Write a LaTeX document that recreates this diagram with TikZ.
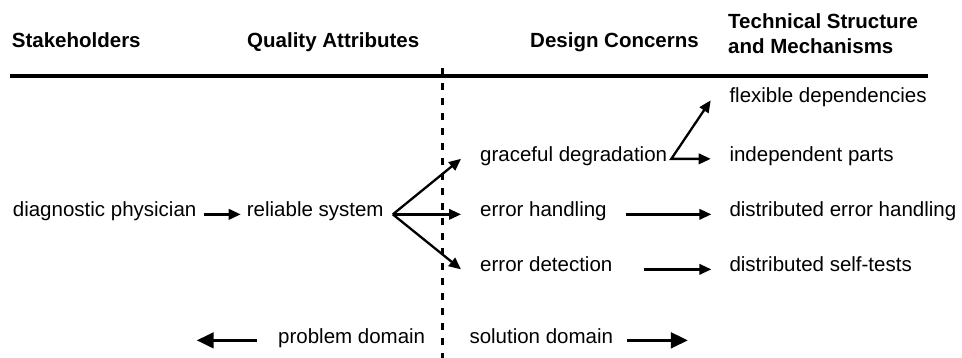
\documentclass[tikz,border=0pt]{standalone}
\usepackage{fontspec}
\setmainfont{Liberation Sans}
\usetikzlibrary{arrows.meta,calc}

\begin{document}
\begin{tikzpicture}[x=1pt,y=1pt,
  lbl/.style={inner sep=0pt, anchor=base west, font=\fontsize{20.5}{25}\selectfont},
  head/.style={lbl, font=\fontsize{20.5}{25}\selectfont\bfseries},
  tip/.tip={Triangle[length=12pt,width=10.5pt]},
  bigtip/.tip={Triangle[length=17pt,width=15.5pt]},
  arr/.style={line width=2.3pt, -tip},
  bigarr/.style={line width=3.2pt, -bigtip},
  rule/.style={line width=3.2pt},
  divider/.style={line width=2.5pt, dash pattern=on 7pt off 8pt}
]
% canvas
\useasboundingbox (0,0) rectangle (962,-358);

% column headings
\node[head] (sh)  at (11.7,-48)  {Stakeholders};
\node[head] (qa)  at (247,-48)   {Quality Attributes};
\node[head] (dc)  at (530,-48)   {Design Concerns};
\node[head] (ts1) at (728,-28.3) {Technical Structure};
\node[head] (ts2) at (728,-53.3) {and Mechanisms};

% heading rule and problem/solution divider
\coordinate (ruleL) at (10,-76);
\coordinate (ruleR) at (928,-76);
\draw[rule] (ruleL) -- (ruleR);
\coordinate (divT) at (442.7,-68.3);
\coordinate (divB) at (442.7,-358);
\draw[divider] (divT) -- (divB);

% entries
\node[lbl] (fd)  at (729.3,-103)   {flexible dependencies};
\node[lbl] (gd)  at (480,-161.5)   {graceful degradation};
\node[lbl] (ind) at (729.3,-161.5) {independent parts};
\node[lbl] (dp)  at (12.7,-217)    {diagnostic physician};
\node[lbl] (rs)  at (246.7,-217)   {reliable system};
\node[lbl] (eh)  at (480,-217)     {error handling};
\node[lbl] (deh) at (729.3,-217)   {distributed error handling};
\node[lbl] (ed)  at (480,-272)     {error detection};
\node[lbl] (dst) at (729.3,-272)   {distributed self-tests};
\node[lbl] (pd)  at (278,-343)     {problem domain};
\node[lbl] (sd)  at (469.3,-343)   {solution domain};

% stakeholder to quality attribute
\draw[arr] ([xshift=7pt]dp.mid east) -- ([xshift=-6pt]rs.mid west);

% quality attribute fans out to design concerns
\coordinate (fan) at ([xshift=9pt]rs.mid east);
\draw[arr] (fan) -- ([xshift=-19pt]gd.mid west);
\draw[arr] (fan) -- ([xshift=-19pt]eh.mid west);
\draw[arr] (fan) -- ([xshift=-19pt]ed.mid west);

% design concerns to mechanisms
\draw[line width=2.3pt, tip-tip]
  ([xshift=-18.6pt]fd.mid west) -- ([xshift=4pt]gd.mid east) -- ([xshift=-18.6pt]ind.mid west);
\draw[arr] ([xshift=19pt]eh.mid east) -- ([xshift=-18pt]deh.mid west);
\draw[arr] ([xshift=31pt]ed.mid east) -- ([xshift=-18pt]dst.mid west);

% domain arrows
\coordinate (pdEnd) at ($(pd.mid west)+(-81.3,0)$);
\coordinate (sdEnd) at ($(sd.mid east)+(74.6,0)$);
\draw[bigarr] ([xshift=-21pt]pd.mid west) -- (pdEnd);
\draw[bigarr] ([xshift=14pt]sd.mid east) -- (sdEnd);
\end{tikzpicture}
\end{document}
